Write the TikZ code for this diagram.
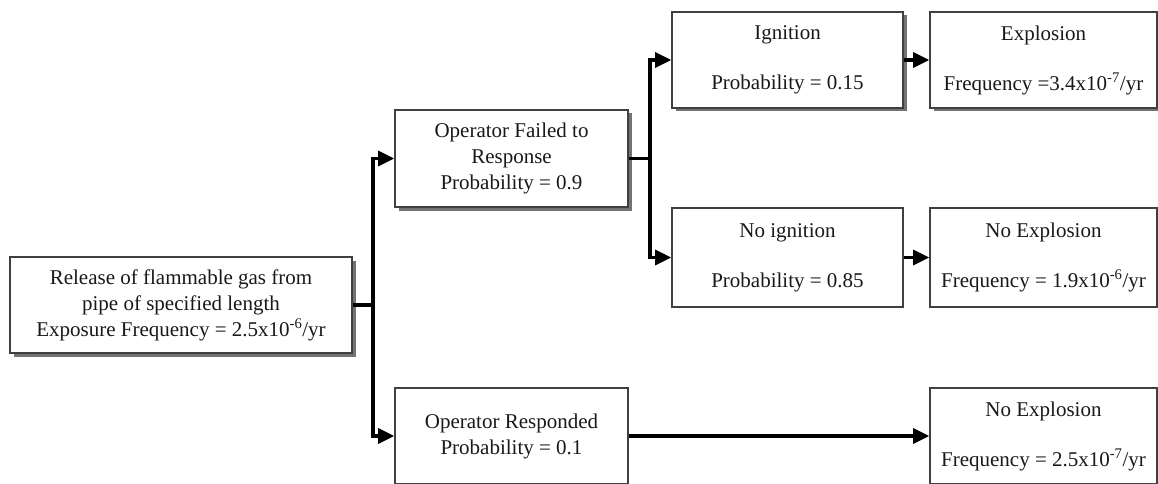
\documentclass[tikz,border=0pt]{standalone}
\usepackage{fontspec}
\setmainfont{Liberation Serif}
\usetikzlibrary{arrows.meta,shadows}
\begin{document}
\begin{tikzpicture}[x=1pt,y=-1pt,
  evbox/.style={draw=black!75, line width=1.6pt, fill=white, inner sep=0pt,
    align=center, text=black!90, font=\fontsize{21}{26}\selectfont},
  shadowed/.style={drop shadow={shadow xshift=3.5pt, shadow yshift=-3.5pt,
    fill=black!55, opacity=1}},
  conn/.style={line width=3.2pt, line join=miter, draw=black},
  arr/.style={conn, -{Triangle[length=16pt,width=15pt]}}
]
\useasboundingbox (0,0) rectangle (1158,484);

% initiating event
\node[evbox, shadowed, minimum width=342pt, minimum height=96pt] (rel) at (181,305)
  {Release of flammable gas from\\pipe of specified length\\Exposure Frequency = 2.5x10\textsuperscript{-6}/yr};

% operator branch
\node[evbox, shadowed, minimum width=233pt, minimum height=97pt] (fail) at (511.5,158.5)
  {Operator Failed to\\Response\\Probability = 0.9};
\node[evbox, minimum width=233pt, minimum height=96pt] (resp) at (511.5,436)
  {Operator Responded\\Probability = 0.1};

% ignition branch
\node[evbox, shadowed, minimum width=231pt, minimum height=96pt] (ign) at (787.5,60)
  {Ignition\\[24pt]Probability = 0.15};
\node[evbox, minimum width=231pt, minimum height=99pt] (noign) at (787.5,257.5)
  {No ignition\\[24pt]Probability = 0.85};

% outcomes
\node[evbox, shadowed, minimum width=227pt, minimum height=96pt] (expl) at (1043.5,60)
  {Explosion\\[24pt]Frequency =3.4x10\textsuperscript{-7}/yr};
\node[evbox, minimum width=227pt, minimum height=99pt] (noexpA) at (1043.5,257.5)
  {No Explosion\\[24pt]Frequency = 1.9x10\textsuperscript{-6}/yr};
\node[evbox, minimum width=227pt, minimum height=96pt] (noexpB) at (1043.5,436)
  {No Explosion\\[24pt]Frequency = 2.5x10\textsuperscript{-7}/yr};

% junction points
\coordinate (j1) at (373,305);
\coordinate (j2) at (650,158.5);

% connectors
\draw[conn] (rel.east) -- (j1);
\draw[arr] (j1) |- (fail.west);
\draw[arr] (j1) |- (resp.west);
\draw[conn] (fail.east) -- (j2);
\draw[arr] (j2) |- (ign.west);
\draw[arr] (j2) |- (noign.west);
\draw[arr] (ign.east) -- (expl.west);
\draw[arr] (noign.east) -- (noexpA.west);
\draw[arr] (resp.east) -- (noexpB.west);
\end{tikzpicture}
\end{document}
